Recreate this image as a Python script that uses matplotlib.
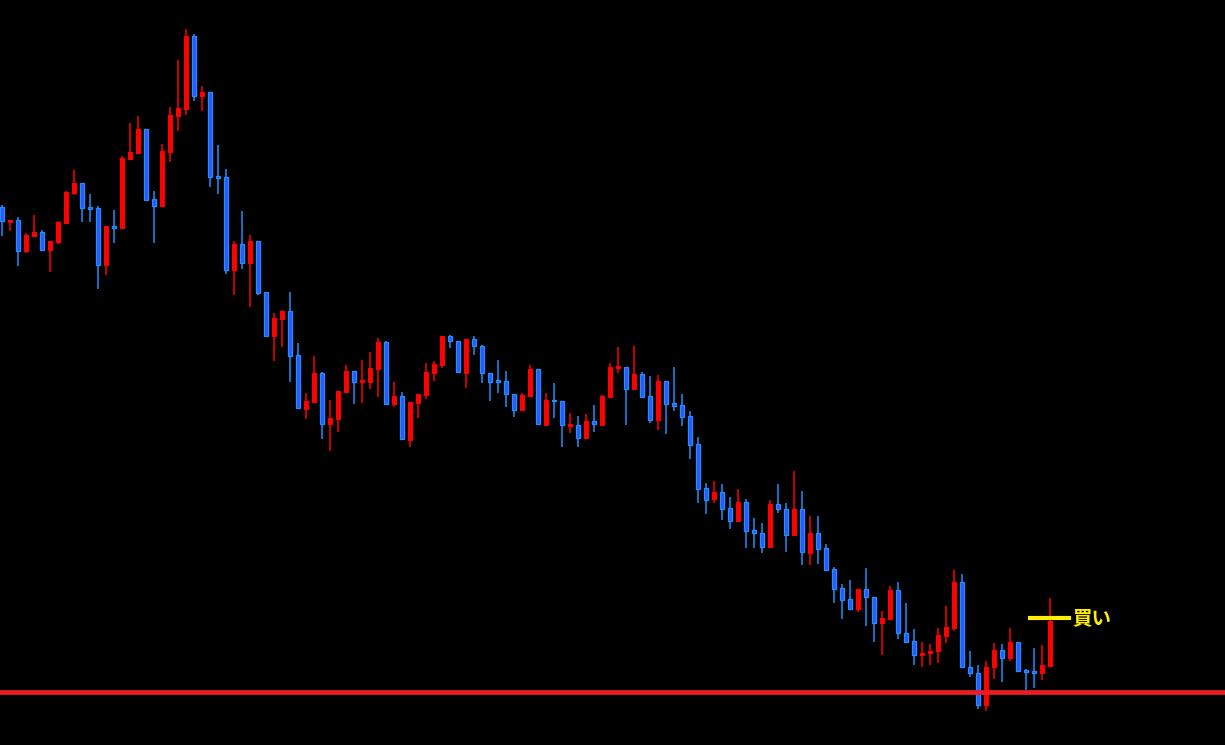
import matplotlib
matplotlib.use('Agg')
import matplotlib.pyplot as plt
import numpy as np

# candle prices (chart units)
opens = [537.7, 523.3, 524.7, 494.3, 509.3, 512.7, 495.3, 503, 521.7, 552,
         562, 537.7, 537, 480.3, 519, 517.3, 586.3, 592, 616, 546,
         539.3, 593.3, 629.3, 636.3, 709, 649.3, 652.7, 568.7, 567.7, 475.3,
         500.7, 482.3, 503.7, 452.7, 409.3, 426.3, 433.7, 389.7, 336.3, 343.3,
         371.7, 321.3, 326.3, 353.3, 373.7, 363.3, 363.3, 376.3, 403, 341.3,
         348.7, 305.3, 342.3, 350.3, 372.3, 380.3, 409, 403.7, 372.3, 405.7,
         399, 371.7, 364.3, 363.7, 350.7, 334.7, 349.3, 375.7, 320, 345,
         343.7, 319.3, 319.7, 306.7, 323.7, 320, 348.3, 377.3, 378, 356.3,
         371, 349, 325.3, 364, 342, 340, 329, 301, 257, 245.7,
         253, 236.7, 224.3, 243, 215, 212, 198.3, 241, 235.7, 210.3,
         235.7, 192.3, 212, 196.7, 175.7, 156.7, 145.7, 136.3, 155.7, 147.7,
         122.3, 126.3, 154.7, 111.7, 103.7, 89.7, 91.7, 93.7, 109.3, 117.3,
         163, 77.7, 71.7, 40.3, 77.7, 95, 87.3, 102.7, 75, 73.7,
         71.7, 79.3]
highs = [540, 525, 528, 511.7, 530, 515, 504, 524, 554, 575,
         562, 551, 539, 519, 535, 589, 622, 629, 616, 554,
         601, 638, 685, 716, 711, 659, 652.7, 600, 576, 503.7,
         534, 510, 503.7, 452.7, 431.7, 435, 453, 402, 352, 389,
         372.7, 345, 353.7, 379.7, 373.7, 385, 393, 407, 403.7, 363,
         353, 343, 351, 382, 383.7, 409, 410, 403.7, 406, 409,
         400, 371.7, 385, 373.7, 350.7, 352, 380, 375.7, 352, 362,
         343.7, 332, 329, 331, 340, 350, 382, 398, 378, 399,
         373, 369, 370, 364, 378, 351, 334, 308, 262, 264,
         261, 248, 256, 246, 226.7, 222, 245, 261, 242, 274,
         254, 229, 229, 201, 177.7, 161, 165, 155.7, 177, 147.7,
         134, 159, 163, 142, 116, 103, 101, 117, 139, 175,
         171, 94, 80, 84, 102, 101, 117, 102.7, 76.3, 97,
         100, 147]
lows = [509.3, 514.3, 479.3, 492.3, 508.3, 495.3, 473.3, 501.3, 521, 550.3,
        523.3, 523.3, 456.3, 470, 502.3, 517.3, 586.3, 591.3, 545.3, 502.3,
        538.3, 583.3, 614.3, 630.3, 644.3, 634.3, 558.3, 551.3, 471.3, 450.3,
        476.3, 438.3, 450.3, 409.3, 384.3, 398.3, 363.3, 336.7, 326.3, 342.3,
        306.3, 294.3, 313.3, 353.3, 341.3, 342, 356.3, 348.3, 341.3, 338,
        305.7, 298.3, 327.3, 346.3, 364, 377.3, 397.3, 372.7, 357.3, 390.3,
        362.3, 344.3, 352.3, 338.3, 328.3, 333.7, 348.3, 320.7, 319.3, 327.3,
        298.3, 312.3, 298.3, 306.7, 313.3, 319, 348.3, 371.7, 320.3, 356.3,
        347.3, 322.3, 315.3, 311.3, 334.3, 319.3, 286.3, 242.3, 231.3, 242.3,
        225.3, 216.3, 224.3, 197.3, 197.3, 192.3, 198.3, 232.3, 193.3, 210.3,
        180.3, 180.3, 181.3, 174.3, 142.3, 126.3, 136.3, 133.3, 119.3, 103.3,
        90.3, 126.3, 106.3, 103.5, 80.3, 78.3, 79.7, 82.3, 102.3, 114.3,
        77.7, 68.3, 36.3, 34.3, 66.3, 63.3, 84.3, 73.7, 55.3, 57.3,
        65.3, 79.3]
closes = [523.7, 525, 494.3, 510, 513, 495.3, 504, 523, 553, 562,
          537.3, 536.3, 480.3, 519, 517.3, 587, 593, 616, 545.3, 539.3,
          594, 630, 637, 709, 649.3, 653, 568.3, 567.3, 475.3, 501,
          482.3, 503.7, 452.3, 409.3, 427, 434, 389.3, 336.7, 343.7, 371.7,
          321.3, 327, 353.7, 373.7, 363.3, 364, 376.7, 403, 341.3, 348.7,
          305.7, 343, 351, 373, 381, 409, 403.7, 372.7, 406, 398.7,
          371.7, 363.3, 363.3, 350.7, 334.7, 349.7, 375.7, 320.7, 345, 343.7,
          319.7, 320, 306.7, 324, 320.7, 349, 378, 378, 356.3, 371,
          348.3, 325.3, 364, 341.3, 339.3, 328.3, 300.3, 256.3, 245.3, 253,
          236.3, 224.3, 243, 214.3, 211.7, 198.3, 241, 235.7, 210.3, 235.7,
          192.7, 212, 196.3, 175.3, 156.3, 145.3, 136.3, 155.7, 147.7, 122.3,
          126.7, 154.7, 111.7, 103.5, 89.7, 91.7, 93.7, 109.7, 117.7, 163,
          77.7, 71.7, 40.3, 77.7, 95, 87.5, 102.7, 74.3, 73.3, 71.7,
          79.7, 124]

support_level = 52.7
entry_level = 126.7
entry_span = (128.25, 133.6)
entry_label = '買い'

UP = '#ff0000'
DOWN_EDGE = '#1e90ff'
DOWN_FACE = '#2f55ff'

o = np.array(opens)
h = np.array(highs)
l = np.array(lows)
c = np.array(closes)
idx = np.arange(len(o))
up = c >= o

fig = plt.figure(figsize=(12.25, 7.45), dpi=100, facecolor='black')
ax = fig.add_axes([0, 0, 1, 1])
ax.set_facecolor('black')

# wicks
ax.vlines(idx[up], l[up], h[up], color=UP, linewidth=1.1, zorder=2)
ax.vlines(idx[~up], l[~up], h[~up], color=DOWN_EDGE, linewidth=1.1, zorder=2)

# bodies (keep a minimum height so dojis stay visible)
bottom = np.minimum(o, c)
height = np.maximum(np.abs(c - o), 1.2)
ax.bar(idx[up], height[up], bottom=bottom[up], width=0.6,
       color=UP, edgecolor=UP, linewidth=0.8, zorder=3)
ax.bar(idx[~up], height[~up], bottom=bottom[~up], width=0.6,
       color=DOWN_FACE, edgecolor=DOWN_EDGE, linewidth=0.9, zorder=3)

# support line and entry marker
ax.axhline(support_level, color='#ee1c25', linewidth=3.4, zorder=4)
ax.hlines(entry_level, entry_span[0], entry_span[1], color='#ffee00',
          linewidth=3, zorder=4)
ax.text(entry_span[1] + 0.2, entry_level, entry_label, color='#ffee00',
        fontsize=14, fontweight='bold', va='center', ha='left',
        family=['Noto Sans CJK JP', 'DejaVu Sans'], zorder=5)

ax.set_xlim(-0.25, 152.875)
ax.set_ylim(0, 745)
ax.axis('off')

fig.savefig('out.png', dpi=100, facecolor='black')
